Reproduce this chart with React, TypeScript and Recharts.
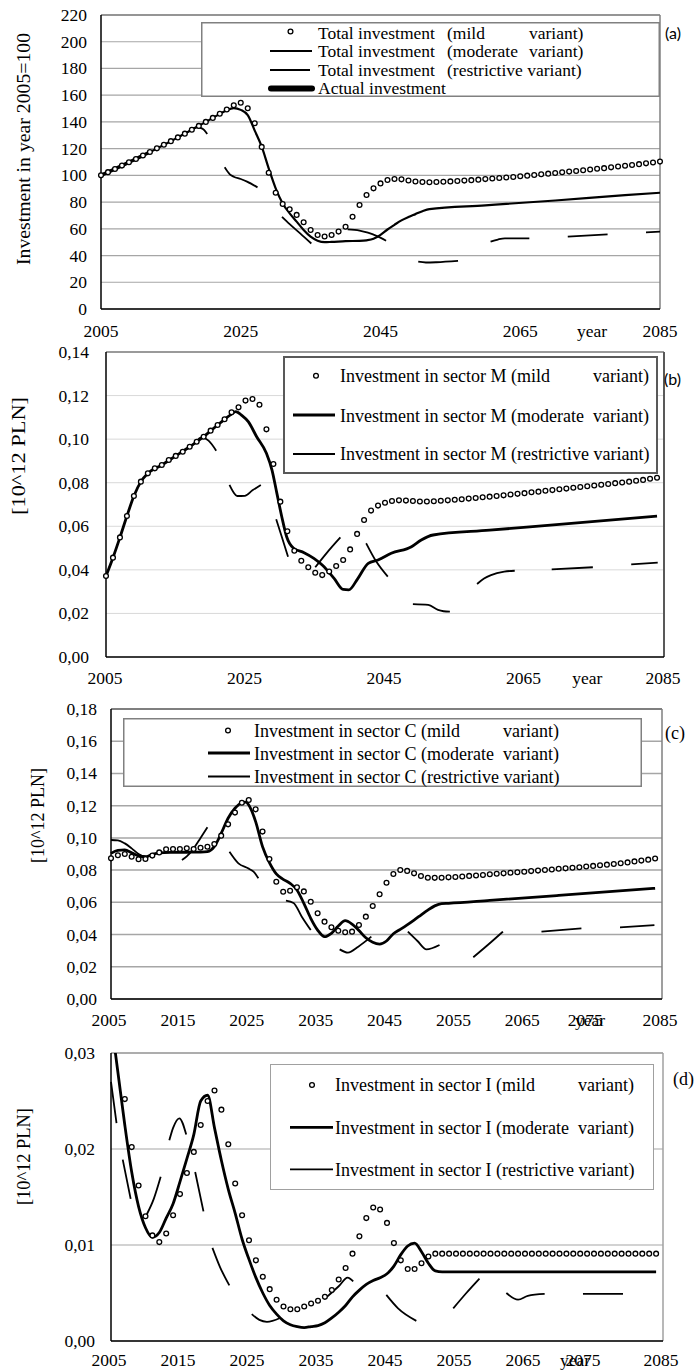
import React from 'react';
import { LineChart, Line, XAxis, YAxis, CartesianGrid, ReferenceLine, Legend } from 'recharts';

const SERIF = "'Liberation Serif', 'Times New Roman', serif";
const SANS = "Lato, 'Liberation Sans', Arial, sans-serif";

type Pt = [number, number];

// Years on the horizontal axis
const YEARS_TO_2085 = Array.from({ length: 81 }, (_, i) => 2005 + i);
const YEARS_TO_2084 = YEARS_TO_2085.slice(0, 80);

const LONG_YEAR_TICKS = [2005, 2025, 2045, 2065, 2075, 2085];
const DECADE_TICKS = [2005, 2015, 2025, 2035, 2045, 2055, 2065, 2075, 2085];

// ---------- (a) Total investment, index 2005 = 100 ----------
const totalTicks = [0, 20, 40, 60, 80, 100, 120, 140, 160, 180, 200, 220];
const totalMild = [
  100, 102.4, 104.8, 107.3, 109.8, 112.3, 114.9, 117.5, 120.2, 122.9,
  125.6, 128.4, 131.2, 134.1, 137, 140, 143, 146.1, 149.3, 152.5,
  154.3, 150.2, 139, 121.3, 102, 87, 78.6, 74.6, 70.4, 64.9,
  59.1, 55.4, 54.2, 55.4, 57.9, 61.6, 69, 77.8, 85.3, 90.3,
  94, 96.5, 97.3, 97, 96.2, 95.4, 95, 94.9, 95, 95.2,
  95.5, 95.8, 96.1, 96.4, 96.8, 97.2, 97.6, 98, 98.4, 98.8,
  99.3, 99.8, 100.3, 100.8, 101.3, 101.8, 102.3, 102.8, 103.3, 103.8,
  104.4, 104.9, 105.4, 106, 106.6, 107.2, 107.8, 108.4, 109, 109.6,
  110.3,
];
const totalModerate: Pt[] = [
  [2005, 100], [2010, 112.3], [2015, 125.6], [2020, 140], [2022, 146], [2023, 148.8],
  [2024, 150.3], [2025, 149], [2026, 145], [2027, 133.5], [2028, 121.5], [2029, 105.3],
  [2030, 90.3], [2031, 79], [2032, 71.6], [2033, 65.4], [2034, 59.1], [2035, 54.1],
  [2036, 51.1], [2037, 50], [2038, 50.2], [2040, 50.8], [2042, 51], [2043, 51.4],
  [2044, 52.5], [2045, 55.5], [2046, 59.5], [2047, 63], [2048, 66.3], [2049, 68.8],
  [2050, 71], [2051, 73.2], [2052, 74.8], [2060, 77.6], [2070, 81.2], [2080, 85.2], [2085, 87],
];
const totalRestrictive: Pt[][] = [
  [[2016, 128.4], [2017.5, 132.6], [2018.7, 136], [2019.5, 135], [2020.2, 131]],
  [[2022.7, 106], [2023.4, 101], [2024, 99], [2025, 97.3], [2025.9, 95.3], [2027.4, 91]],
  [[2030.9, 69], [2032, 63.5], [2033.5, 56.6], [2035.1, 49]],
  [[2040.3, 59.6], [2042, 58.7], [2043.2, 57.1], [2044.5, 54.5], [2045.8, 51.1]],
  [[2050.4, 35.4], [2051.5, 34.8], [2053, 35], [2056.1, 36]],
  [[2060.75, 50.4], [2061.8, 52], [2062.8, 52.9], [2066.3, 52.9]],
  [[2071.8, 54.1], [2077.5, 55.9]],
  [[2083, 57.4], [2085, 57.9]],
];
const totalActual = [100, 102.4, 104.8, 107.3, 109.8, 112.3, 114.9, 117.5];

// ---------- (b) Investment in sector M, 10^12 PLN ----------
const sectorMTicks = [0, 0.02, 0.04, 0.06, 0.08, 0.1, 0.12, 0.14];
const sectorMMild = [
  0.0372, 0.0456, 0.0549, 0.0647, 0.0739, 0.0805, 0.0843, 0.0866, 0.0881, 0.0904,
  0.0923, 0.0942, 0.0965, 0.0988, 0.1011, 0.1039, 0.1065, 0.1091, 0.1123, 0.1146,
  0.1177, 0.1184, 0.1158, 0.1045, 0.0886, 0.0713, 0.0577, 0.0488, 0.0442, 0.0412,
  0.0387, 0.0376, 0.0392, 0.0418, 0.0445, 0.0494, 0.0565, 0.0629, 0.0672, 0.0695,
  0.0708, 0.0716, 0.0719, 0.0718, 0.0716, 0.0714, 0.0714, 0.0715, 0.0717, 0.0719,
  0.0722, 0.0724, 0.0727, 0.073, 0.0733, 0.0736, 0.0739, 0.0742, 0.0746, 0.0749,
  0.0752, 0.0756, 0.0759, 0.0763, 0.0766, 0.077, 0.0773, 0.0777, 0.078, 0.0784,
  0.0787, 0.0791, 0.0794, 0.0798, 0.0801, 0.0805, 0.0809, 0.0813, 0.0818, 0.0823,
];
const sectorMModerate: Pt[] = [
  [2005, 0.0372], [2006, 0.0456], [2007, 0.0549], [2008, 0.0647], [2009, 0.0739], [2010, 0.0805],
  [2011, 0.0843], [2013, 0.0881], [2015, 0.0923], [2017, 0.0965], [2019, 0.1011], [2021, 0.1065],
  [2022, 0.1091], [2023, 0.1115], [2023.6, 0.1126], [2024.5, 0.1108], [2025.4, 0.108],
  [2026.6, 0.1011], [2028, 0.0935], [2028.8, 0.0858], [2029.5, 0.0751], [2030.2, 0.0644],
  [2030.9, 0.0552], [2031.9, 0.0499], [2033.4, 0.0479], [2034.8, 0.0453], [2036, 0.0422],
  [2037.7, 0.0361], [2039, 0.031], [2039.8, 0.0308], [2041.1, 0.036], [2042.6, 0.043],
  [2044, 0.0445], [2045.9, 0.0476], [2048.8, 0.0506], [2050.2, 0.0537], [2051.9, 0.056],
  [2060, 0.0582], [2070, 0.0609], [2084, 0.0647],
];
const sectorMRestrictive: Pt[][] = [
  [[2016, 0.0942], [2017.5, 0.0976], [2018.7, 0.1008], [2019.7, 0.0993], [2020.8, 0.0947]],
  [[2022.7, 0.079], [2023.3, 0.0755], [2023.8, 0.0739], [2024.9, 0.074], [2026, 0.0765], [2027.2, 0.079]],
  [[2029.4, 0.0632], [2030.2, 0.0552], [2031.1, 0.046]],
  [[2035, 0.0412], [2036.6, 0.0476], [2038.6, 0.0549]],
  [[2042.3, 0.0522], [2043.75, 0.0438], [2045.4, 0.0369]],
  [[2049, 0.0243], [2051.2, 0.0239], [2052.6, 0.0216], [2053.4, 0.021], [2054.3, 0.0208]],
  [[2058.2, 0.0335], [2059.2, 0.036], [2060.2, 0.0376], [2062.1, 0.0392], [2063.6, 0.0396]],
  [[2068.9, 0.0402], [2074.8, 0.0412]],
  [[2080.3, 0.0425], [2084.1, 0.0433]],
];

// ---------- (c) Investment in sector C, 10^12 PLN ----------
const sectorCTicks = [0, 0.02, 0.04, 0.06, 0.08, 0.1, 0.12, 0.14, 0.16, 0.18];
const sectorCMild = [
  0.0873, 0.0892, 0.09, 0.0883, 0.0867, 0.0869, 0.089, 0.091, 0.0929, 0.0931,
  0.0931, 0.0935, 0.0931, 0.0939, 0.0945, 0.0962, 0.1014, 0.1084, 0.1157, 0.1218,
  0.1235, 0.1177, 0.1039, 0.0869, 0.0728, 0.0666, 0.0672, 0.0693, 0.0668, 0.0604,
  0.0532, 0.048, 0.0445, 0.0424, 0.0414, 0.0418, 0.0459, 0.0511, 0.0577, 0.065,
  0.0722, 0.0776, 0.0801, 0.0795, 0.078, 0.0763, 0.0753, 0.0752, 0.0753, 0.0755,
  0.0757, 0.076, 0.0764, 0.0767, 0.077, 0.0774, 0.0777, 0.078, 0.0784, 0.0787,
  0.079, 0.0794, 0.0797, 0.0801, 0.0804, 0.0808, 0.0811, 0.0815, 0.0818, 0.0822,
  0.0826, 0.083, 0.0834, 0.0838, 0.0843, 0.0848, 0.0854, 0.0859, 0.0865, 0.0872,
];
const sectorCModerate: Pt[] = [
  [2005, 0.0904], [2006, 0.0922], [2007, 0.0925], [2008, 0.0908], [2009, 0.0888], [2010, 0.0883],
  [2011, 0.0898], [2012, 0.0907], [2014, 0.091], [2016, 0.0911], [2018, 0.0912], [2019, 0.0915],
  [2020, 0.0946], [2021, 0.1028], [2022, 0.1122], [2023, 0.1184], [2024, 0.1218], [2024.6, 0.1222],
  [2025, 0.1204], [2026, 0.1101], [2027, 0.0946], [2028, 0.0846], [2029, 0.0776], [2030, 0.0743],
  [2031, 0.0718], [2032, 0.0677], [2033, 0.0594], [2034, 0.0501], [2035, 0.0428], [2036, 0.0387],
  [2037, 0.0408], [2038, 0.0453], [2039, 0.0486], [2040, 0.0465], [2041, 0.0425], [2042, 0.038],
  [2043, 0.0352], [2044, 0.0341], [2045, 0.036], [2046, 0.0405], [2047, 0.0432], [2048, 0.046],
  [2049, 0.049], [2050, 0.0521], [2051, 0.0552], [2052, 0.0578], [2053, 0.0592], [2054, 0.0594],
  [2060, 0.0612], [2070, 0.0643], [2084, 0.0687],
];
const sectorCRestrictive: Pt[][] = [
  [[2005, 0.0987], [2006, 0.0985], [2007, 0.0966], [2008, 0.0935], [2009, 0.09], [2010, 0.0883], [2010.5, 0.0885]],
  [[2015.3, 0.0863], [2016, 0.0885], [2017, 0.0935], [2018, 0.1], [2019, 0.1066]],
  [[2022.2, 0.0914], [2023.5, 0.0842], [2024.9, 0.0811], [2025.7, 0.079], [2026.4, 0.0749]],
  [[2030.4, 0.061], [2031.5, 0.0596], [2032.7, 0.0511], [2034, 0.0428]],
  [[2038.2, 0.0308], [2039.4, 0.0288], [2040.9, 0.0325], [2042.8, 0.0387]],
  [[2048.1, 0.0418], [2049.5, 0.036], [2050.8, 0.0308], [2052.7, 0.0335]],
  [[2057.6, 0.0259], [2059.7, 0.0335], [2061.9, 0.0418]],
  [[2067.5, 0.0418], [2073.3, 0.0439]],
  [[2078.9, 0.0445], [2083.9, 0.0459]],
];

// ---------- (d) Investment in sector I, 10^12 PLN ----------
const sectorITicks = [0, 0.01, 0.02, 0.03];
const sectorIMild = [
  0.036, 0.031, 0.0252, 0.0202, 0.0162, 0.013, 0.011, 0.0103, 0.0112, 0.0131,
  0.0153, 0.0175, 0.0197, 0.0225, 0.025, 0.0261, 0.0241, 0.0205, 0.0164, 0.0131,
  0.0105, 0.0084, 0.0067, 0.0054, 0.0043, 0.0036, 0.0033, 0.0033, 0.0036, 0.0039,
  0.0042, 0.0046, 0.0053, 0.0064, 0.0076, 0.0091, 0.0109, 0.0128, 0.0139, 0.0137,
  0.0123, 0.0102, 0.0084, 0.0075, 0.0075, 0.0081, 0.0088, 0.0091, 0.0091, 0.0091,
  0.0091, 0.0091, 0.0091, 0.0091, 0.0091, 0.0091, 0.0091, 0.0091, 0.0091, 0.0091,
  0.0091, 0.0091, 0.0091, 0.0091, 0.0091, 0.0091, 0.0091, 0.0091, 0.0091, 0.0091,
  0.0091, 0.0091, 0.0091, 0.0091, 0.0091, 0.0091, 0.0091, 0.0091, 0.0091, 0.0091,
];
const sectorIModerate: Pt[] = [
  [2005, 0.0335], [2006, 0.028], [2007, 0.0225], [2008, 0.0176], [2009, 0.014], [2010, 0.0118],
  [2011, 0.0108], [2012, 0.0113], [2013, 0.0128], [2014, 0.0143], [2015, 0.0166], [2016, 0.019],
  [2017, 0.0215], [2018, 0.025], [2019, 0.0256], [2020, 0.0222], [2021, 0.0188], [2022, 0.0158],
  [2023, 0.0133], [2024, 0.0106], [2025, 0.0085], [2026, 0.0066], [2027, 0.005], [2028, 0.0037],
  [2029, 0.0028], [2030, 0.0021], [2031, 0.0017], [2032, 0.0015], [2033, 0.0014], [2034, 0.0015],
  [2035, 0.0016], [2036, 0.0019], [2037, 0.0024], [2038, 0.003], [2039, 0.0037], [2040, 0.0046],
  [2041, 0.0053], [2042, 0.0059], [2043, 0.0063], [2044, 0.0066], [2045, 0.007], [2046, 0.0078],
  [2047, 0.009], [2048, 0.0099], [2049, 0.0102], [2050, 0.0093], [2051, 0.0081], [2052, 0.0073],
  [2053, 0.0072], [2070, 0.0072], [2084, 0.0072],
];
const sectorIRestrictive: Pt[][] = [
  [[2005, 0.027], [2005.8, 0.0227]],
  [[2006.7, 0.0189], [2007.85, 0.0148]],
  [[2010.2, 0.0132], [2011.2, 0.0148], [2012.2, 0.0171]],
  [[2013.45, 0.0209], [2014, 0.0222], [2014.9, 0.0232], [2015.9, 0.0215]],
  [[2017.2, 0.0176], [2018.4, 0.0135]],
  [[2019.7, 0.0097], [2020.8, 0.0077], [2022.15, 0.0058]],
  [[2025.4, 0.0028], [2026.5, 0.0022], [2027.6, 0.002], [2029.5, 0.0024]],
  [[2036.3, 0.0046], [2038, 0.0057], [2039.3, 0.0066], [2040.1, 0.0062]],
  [[2044.9, 0.0048], [2046.6, 0.0034], [2049.25, 0.0021]],
  [[2054.6, 0.0034], [2056.5, 0.005], [2058.4, 0.0065]],
  [[2062.3, 0.005], [2064, 0.0043], [2065.4, 0.0047], [2067.85, 0.0049]],
  [[2073.4, 0.0049], [2079.2, 0.0049]],
];

// ---------- row builders ----------
type Row = { year: number; [k: string]: number | null };
const yearlyRows = (years: number[], vals: number[], key: string): Row[] =>
  years.slice(0, vals.length).map((year, i) => ({ year, [key]: vals[i] }));
const knotRows = (pts: Pt[], key: string): Row[] => pts.map(([year, v]) => ({ year, [key]: v }));
const segmentRows = (segs: Pt[][], key: string): Row[] => {
  const rows: Row[] = [];
  segs.forEach((seg, i) => {
    if (i > 0) {
      const prev = segs[i - 1];
      rows.push({ year: (prev[prev.length - 1][0] + seg[0][0]) / 2, [key]: null });
    }
    seg.forEach(([year, v]) => rows.push({ year, [key]: v }));
  });
  return rows;
};

const fmtInt = (v: number) => String(Math.round(v));
const fmtComma = (v: number) => v.toFixed(2).replace('.', ',');

// ---------- legend ----------
interface LegendItem {
  mark: 'dot' | 'line';
  width?: number;
  cap?: 'round' | 'butt';
  mx: [number, number];
  my: number;
  ty: number;
  pieces: [number, string][];
}
interface LegendBox {
  left: number; top: number; width: number; height: number;
  stroke: string; strokeWidth: number; fontSize: number;
  items: LegendItem[];
}

function LegendBoxView({ box }: { box: LegendBox }) {
  const ox = box.left;
  const oy = box.top;
  const sw = box.strokeWidth;
  return (
    <svg width={box.width} height={box.height} style={{ display: 'block', overflow: 'visible' }}>
      <rect x={sw / 2} y={sw / 2} width={box.width - sw} height={box.height - sw} fill="#fff" stroke={box.stroke} strokeWidth={sw} />
      {box.items.map((it, i) => (
        <g key={i}>
          {it.mark === 'dot' ? (
            <circle cx={(it.mx[0] + it.mx[1]) / 2 - ox} cy={it.my - oy} r={2.4} fill="#fff" stroke="#000" strokeWidth={1.3} />
          ) : (
            <line x1={it.mx[0] - ox} x2={it.mx[1] - ox} y1={it.my - oy} y2={it.my - oy} stroke="#000" strokeWidth={it.width} strokeLinecap={it.cap ?? 'butt'} />
          )}
          {it.pieces.map(([x, s], j) => (
            <text key={j} x={x - ox} y={it.ty - oy} fontFamily={SERIF} fontSize={box.fontSize} fill="#000" style={{ whiteSpace: 'pre' }}>
              {s}
            </text>
          ))}
        </g>
      ))}
    </svg>
  );
}

// ---------- ticks ----------
const TICK_FONT = 17.5;
const yTick = (gap: number, fmt: (v: number) => string) => (props: any) => {
  const { x, y, payload } = props;
  return (
    <text x={x - gap} y={y + 6} textAnchor="end" fontFamily={SERIF} fontSize={TICK_FONT} fill="#000">
      {fmt(payload.value)}
    </text>
  );
};
type TickText = { text: string; dx: number };
const xTick = (base: number, dx: number, special: Record<number, TickText[]>) => (props: any) => {
  const { x, y, payload } = props;
  const v = payload.value as number;
  const parts: TickText[] = special[v] ?? [{ text: String(v), dx }];
  return (
    <g>
      {parts.map((p, i) => (
        <text key={i} x={x + p.dx} y={y + base} textAnchor="middle" fontFamily={SERIF} fontSize={TICK_FONT} fill="#000">
          {p.text}
        </text>
      ))}
    </g>
  );
};

// ---------- one panel ----------
interface PanelProps {
  top: number;
  height: number;
  margin: { top: number; right: number; bottom: number; left: number };
  yDomain: [number, number];
  yTicks: number[];
  yFmt: (v: number) => string;
  yGap: number;
  xTicks: number[];
  xBase: number;
  xDx: number;
  xSpecial: Record<number, TickText[]>;
  grid: [string, number];
  frameTop: [string, number];
  frameRight: [string, number];
  clip?: boolean;
  mild: Row[];
  moderate: Row[];
  restrictive: Row[];
  actual?: Row[];
  moderateWidth: number;
  legend: LegendBox;
  names: string[];
}

function Panel(p: PanelProps) {
  return (
    <div style={{ position: 'absolute', left: 0, top: p.top }}>
      <LineChart width={696} height={p.height} margin={p.margin}>
        <CartesianGrid vertical={false} stroke={p.grid[0]} strokeWidth={p.grid[1]} />
        <XAxis
          type="number"
          dataKey="year"
          domain={[2005, 2085]}
          ticks={p.xTicks}
          interval={0}
          tickLine={false}
          tickSize={0}
          tickMargin={0}
          height={30}
          axisLine={{ stroke: '#000', strokeWidth: 1.5 }}
          tick={xTick(p.xBase, p.xDx, p.xSpecial)}
        />
        <YAxis
          type="number"
          domain={p.yDomain}
          ticks={p.yTicks}
          interval={0}
          allowDataOverflow={!!p.clip}
          tickLine={false}
          tickSize={0}
          tickMargin={0}
          width={60}
          axisLine={{ stroke: '#000', strokeWidth: 1.5 }}
          tick={yTick(p.yGap, p.yFmt)}
        />
        <ReferenceLine y={p.yDomain[1]} stroke={p.frameTop[0]} strokeWidth={p.frameTop[1]} />
        <ReferenceLine x={2085} stroke={p.frameRight[0]} strokeWidth={p.frameRight[1]} />
        <Line
          name={p.names[2]}
          data={p.restrictive}
          dataKey="restrictive"
          type="monotone"
          stroke="#000"
          strokeWidth={1.8}
          dot={false}
          activeDot={false}
          connectNulls={false}
          isAnimationActive={false}
        />
        <Line
          name={p.names[1]}
          data={p.moderate}
          dataKey="moderate"
          type="monotone"
          stroke="#000"
          strokeWidth={p.moderateWidth}
          dot={false}
          activeDot={false}
          isAnimationActive={false}
        />
        {p.actual && (
          <Line
            name={p.names[3]}
            data={p.actual}
            dataKey="actual"
            type="monotone"
            stroke="#000"
            strokeWidth={3.5}
            dot={false}
            activeDot={false}
            isAnimationActive={false}
          />
        )}
        <Line
          name={p.names[0]}
          data={p.mild}
          dataKey="mild"
          type="monotone"
          stroke="none"
          dot={{ r: 2.4, fill: '#fff', stroke: '#000', strokeWidth: 1.3 }}
          activeDot={false}
          isAnimationActive={false}
        />
        <Legend
          layout="horizontal"
          verticalAlign="middle"
          align="center"
          wrapperStyle={{ left: p.legend.left, top: p.legend.top - p.top, width: p.legend.width, height: p.legend.height }}
          content={() => <LegendBoxView box={p.legend} />}
        />
      </LineChart>
    </div>
  );
}

// ---------- legends ----------
const legendA: LegendBox = {
  left: 201, top: 22, width: 459, height: 75, stroke: '#808080', strokeWidth: 1.5, fontSize: 17.5,
  items: [
    { mark: 'dot', mx: [280, 301], my: 31.5, ty: 38.5, pieces: [[318, 'Total investment'], [447, '(mild'], [529, 'variant)']] },
    { mark: 'line', width: 2.2, mx: [270, 312], my: 51, ty: 57, pieces: [[318, 'Total investment'], [447, '(moderate'], [529, 'variant)']] },
    { mark: 'line', width: 1.8, mx: [270, 310], my: 70, ty: 75.5, pieces: [[318, 'Total investment'], [447, '(restrictive variant)']] },
    { mark: 'line', width: 6, cap: 'round', mx: [271, 312], my: 88.5, ty: 94, pieces: [[318, 'Actual investment']] },
  ],
};
const legendB: LegendBox = {
  left: 283, top: 356, width: 375, height: 118, stroke: '#595959', strokeWidth: 2, fontSize: 18,
  items: [
    { mark: 'dot', mx: [306, 326], my: 375.7, ty: 381.5, pieces: [[340, 'Investment in sector M'], [511, '(mild'], [593, 'variant)']] },
    { mark: 'line', width: 2.8, mx: [293, 335], my: 415, ty: 421.5, pieces: [[340, 'Investment in sector M'], [511, '(moderate'], [593, 'variant)']] },
    { mark: 'line', width: 1.8, mx: [293, 335], my: 454, ty: 460, pieces: [[340, 'Investment in sector M'], [511, '(restrictive variant)']] },
  ],
};
const legendC: LegendBox = {
  left: 123, top: 718, width: 519, height: 69, stroke: '#808080', strokeWidth: 1.5, fontSize: 18,
  items: [
    { mark: 'dot', mx: [218, 238], my: 730.5, ty: 736.5, pieces: [[254, 'Investment in sector C'], [421, '(mild'], [503, 'variant)']] },
    { mark: 'line', width: 2.8, mx: [208, 250], my: 753, ty: 759.5, pieces: [[254, 'Investment in sector C'], [421, '(moderate'], [503, 'variant)']] },
    { mark: 'line', width: 1.8, mx: [208, 250], my: 776.5, ty: 783, pieces: [[254, 'Investment in sector C'], [421, '(restrictive variant)']] },
  ],
};
const legendD: LegendBox = {
  left: 270, top: 1064, width: 384, height: 126, stroke: '#a0a0a0', strokeWidth: 1, fontSize: 18,
  items: [
    { mark: 'dot', mx: [302, 322], my: 1085, ty: 1091, pieces: [[335, 'Investment in sector I'], [496, '(mild'], [578, 'variant)']] },
    { mark: 'line', width: 2.8, mx: [290, 333], my: 1127.3, ty: 1133.5, pieces: [[335, 'Investment in sector I'], [496, '(moderate'], [578, 'variant)']] },
    { mark: 'line', width: 1.8, mx: [290, 333], my: 1169.3, ty: 1175.5, pieces: [[335, 'Investment in sector I'], [496, '(restrictive variant)']] },
  ],
};

// ---------- titles and panel tags ----------
function Annotations() {
  return (
    <svg width={696} height={1372} style={{ position: 'absolute', left: 0, top: 0, pointerEvents: 'none' }}>
      <text transform="translate(30,149) rotate(-90)" textAnchor="middle" fontFamily={SERIF} fontSize={18} textLength={232} lengthAdjust="spacingAndGlyphs">
        Investment in year 2005=100
      </text>
      <text transform="translate(25,456) rotate(-90)" textAnchor="middle" fontFamily={SERIF} fontSize={18} textLength={118} lengthAdjust="spacingAndGlyphs">
        [10^12 PLN]
      </text>
      <text transform="translate(44,815.5) rotate(-90)" textAnchor="middle" fontFamily={SERIF} fontSize={18} textLength={95} lengthAdjust="spacingAndGlyphs">
        [10^12 PLN]
      </text>
      <text transform="translate(30,1156.5) rotate(-90)" textAnchor="middle" fontFamily={SERIF} fontSize={18} textLength={97} lengthAdjust="spacingAndGlyphs">
        [10^12 PLN]
      </text>
      <text x={665} y={38.5} fontFamily={SANS} fontSize={16}>(a)</text>
      <text x={664} y={384.5} fontFamily={SANS} fontSize={16}>(b)</text>
      <text x={665} y={739} fontFamily={SERIF} fontSize={18}>(c)</text>
      <text x={673} y={1085} fontFamily={SERIF} fontSize={18}>(d)</text>
    </svg>
  );
}

export default function App() {
  return (
    <div style={{ position: 'absolute', left: 0, top: 0, width: 696, height: 1372, background: '#fff', overflow: 'hidden' }}>
      <Panel
        top={0}
        height={345}
        margin={{ top: 15, right: 36, bottom: 6, left: 41 }}
        yDomain={[0, 220]}
        yTicks={totalTicks}
        yFmt={fmtInt}
        yGap={14}
        xTicks={LONG_YEAR_TICKS}
        xBase={28}
        xDx={0}
        xSpecial={{ 2075: [{ text: 'year', dx: 2 }] }}
        grid={['#a6a6a6', 1.2]}
        frameTop={['#808080', 1.5]}
        frameRight={['#808080', 1.5]}
        mild={yearlyRows(YEARS_TO_2085, totalMild, 'mild')}
        moderate={knotRows(totalModerate, 'moderate')}
        restrictive={segmentRows(totalRestrictive, 'restrictive')}
        actual={yearlyRows(YEARS_TO_2085, totalActual, 'actual')}
        moderateWidth={2.2}
        legend={legendA}
        names={['Total investment (mild variant)', 'Total investment (moderate variant)', 'Total investment (restrictive variant)', 'Actual investment']}
      />
      <Panel
        top={335}
        height={357}
        margin={{ top: 17, right: 32, bottom: 5, left: 46 }}
        yDomain={[0, 0.14]}
        yTicks={sectorMTicks}
        yFmt={fmtComma}
        yGap={17}
        xTicks={LONG_YEAR_TICKS}
        xBase={27}
        xDx={-1}
        xSpecial={{ 2075: [{ text: 'year', dx: -7 }] }}
        grid={['#d9d9d9', 1]}
        frameTop={['#7f7f7f', 1.5]}
        frameRight={['#595959', 2]}
        mild={yearlyRows(YEARS_TO_2084, sectorMMild, 'mild')}
        moderate={knotRows(sectorMModerate, 'moderate')}
        restrictive={segmentRows(sectorMRestrictive, 'restrictive')}
        moderateWidth={2.8}
        legend={legendB}
        names={['Investment in sector M (mild variant)', 'Investment in sector M (moderate variant)', 'Investment in sector M (restrictive variant)']}
      />
      <Panel
        top={692}
        height={340}
        margin={{ top: 17, right: 34, bottom: 3, left: 51 }}
        yDomain={[0, 0.18]}
        yTicks={sectorCTicks}
        yFmt={fmtComma}
        yGap={14}
        xTicks={DECADE_TICKS}
        xBase={27}
        xDx={-2}
        xSpecial={{ 2075: [{ text: '2075', dx: -8 }, { text: 'year', dx: -3 }] }}
        grid={['#a6a6a6', 1.5]}
        frameTop={['#7f7f7f', 2]}
        frameRight={['#7f7f7f', 1.5]}
        mild={yearlyRows(YEARS_TO_2084, sectorCMild, 'mild')}
        moderate={knotRows(sectorCModerate, 'moderate')}
        restrictive={segmentRows(sectorCRestrictive, 'restrictive')}
        moderateWidth={2.8}
        legend={legendC}
        names={['Investment in sector C (mild variant)', 'Investment in sector C (moderate variant)', 'Investment in sector C (restrictive variant)']}
      />
      <Panel
        top={1032}
        height={340}
        margin={{ top: 21, right: 33, bottom: 1, left: 51 }}
        yDomain={[0, 0.03]}
        yTicks={sectorITicks}
        yFmt={fmtComma}
        yGap={16}
        xTicks={DECADE_TICKS}
        xBase={25}
        xDx={-2}
        xSpecial={{ 2075: [{ text: '2075', dx: -11 }, { text: 'year', dx: -19 }] }}
        grid={['#a6a6a6', 1.2]}
        frameTop={['#a0a0a0', 1.5]}
        frameRight={['#a0a0a0', 1.5]}
        clip
        mild={yearlyRows(YEARS_TO_2084, sectorIMild, 'mild')}
        moderate={knotRows(sectorIModerate, 'moderate')}
        restrictive={segmentRows(sectorIRestrictive, 'restrictive')}
        moderateWidth={2.8}
        legend={legendD}
        names={['Investment in sector I (mild variant)', 'Investment in sector I (moderate variant)', 'Investment in sector I (restrictive variant)']}
      />
      <Annotations />
    </div>
  );
}
